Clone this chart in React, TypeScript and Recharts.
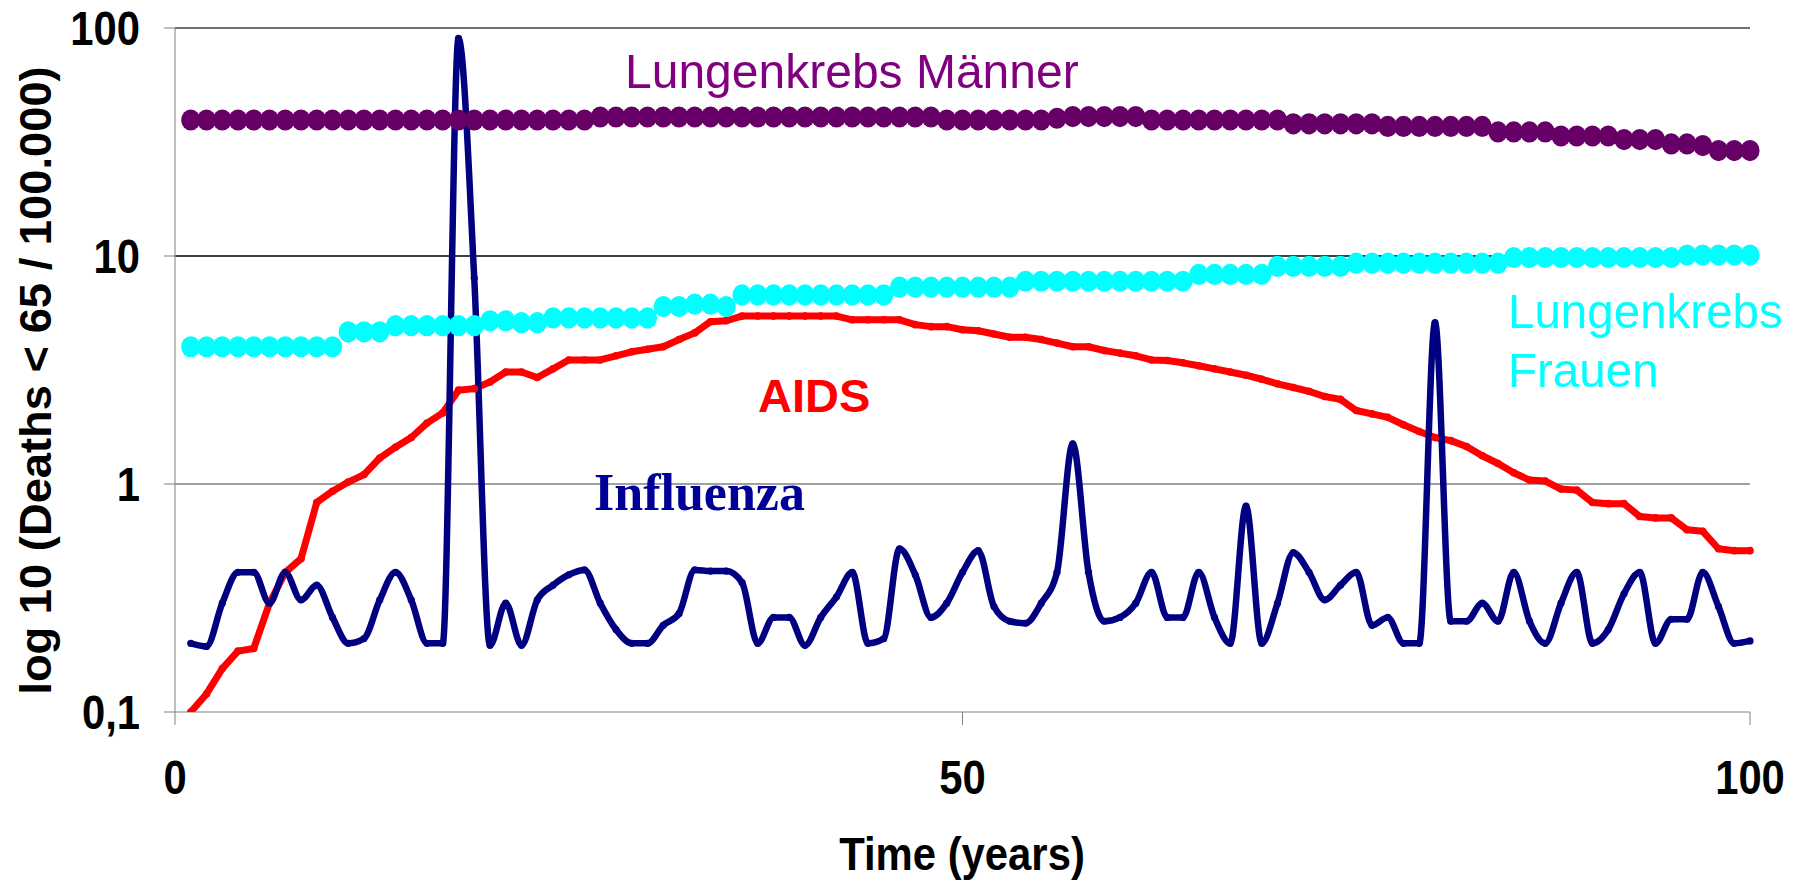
import { LineChart, Line, XAxis, YAxis, ReferenceLine } from 'recharts';

const W = 1802;
const H = 884;

// time axis: one point per year
const YEARS = Array.from({ length: 100 }, (_, i) => i + 1);

const MAENNER = [
  39.5, 39.5, 39.5, 39.5, 39.5, 39.5, 39.5, 39.5, 39.5, 39.5,
  39.5, 39.5, 39.5, 39.5, 39.5, 39.5, 39.5, 39.5, 39.5, 39.5,
  39.5, 39.5, 39.5, 39.5, 39.5, 39.5, 40.7, 40.7, 40.7, 40.7,
  40.7, 40.7, 40.7, 40.7, 40.7, 40.7, 40.7, 40.7, 40.7, 40.7,
  40.7, 40.7, 40.7, 40.7, 40.7, 40.7, 40.7, 40.7, 39.5, 39.5,
  39.5, 39.5, 39.5, 39.5, 39.5, 40.2, 40.9, 40.9, 40.9, 40.9,
  40.9, 39.5, 39.5, 39.5, 39.5, 39.5, 39.5, 39.5, 39.5, 39.5,
  38.0, 38.0, 38.0, 38.0, 38.0, 38.0, 37.0, 37.0, 37.0, 37.0,
  37.0, 37.0, 37.0, 35.0, 35.0, 35.0, 35.0, 33.6, 33.6, 33.6,
  33.6, 32.4, 32.4, 32.4, 31.0, 31.0, 30.5, 29.0, 29.0, 29.0,
];

const FRAUEN = [
  4.0, 4.0, 4.0, 4.0, 4.0, 4.0, 4.0, 4.0, 4.0, 4.0,
  4.65, 4.65, 4.65, 4.95, 4.95, 4.95, 4.95, 4.95, 4.95, 5.2,
  5.2, 5.1, 5.1, 5.35, 5.35, 5.35, 5.35, 5.35, 5.35, 5.35,
  6.0, 6.0, 6.15, 6.15, 6.0, 6.75, 6.75, 6.75, 6.75, 6.75,
  6.75, 6.75, 6.75, 6.75, 6.75, 7.3, 7.3, 7.3, 7.3, 7.3,
  7.3, 7.3, 7.3, 7.75, 7.75, 7.75, 7.75, 7.75, 7.75, 7.75,
  7.75, 7.75, 7.75, 7.75, 8.3, 8.3, 8.3, 8.3, 8.3, 9.0,
  9.0, 9.0, 9.0, 9.0, 9.3, 9.3, 9.3, 9.3, 9.3, 9.3,
  9.3, 9.3, 9.3, 9.3, 9.85, 9.85, 9.85, 9.85, 9.85, 9.85,
  9.85, 9.85, 9.85, 9.85, 9.85, 10.1, 10.1, 10.1, 10.1, 10.1,
];

const AIDS = [
  0.1, 0.12, 0.155, 0.185, 0.19, 0.3, 0.41, 0.47, 0.83, 0.93,
  1.02, 1.1, 1.3, 1.45, 1.6, 1.85, 2.05, 2.58, 2.62, 2.8,
  3.1, 3.1, 2.93, 3.2, 3.5, 3.5, 3.5, 3.65, 3.8, 3.9,
  4.0, 4.3, 4.6, 5.15, 5.2, 5.45, 5.45, 5.45, 5.45, 5.45,
  5.45, 5.45, 5.25, 5.25, 5.25, 5.25, 5.0, 4.9, 4.9, 4.75,
  4.7, 4.55, 4.4, 4.4, 4.3, 4.15, 4.0, 4.0, 3.85, 3.75,
  3.65, 3.5, 3.48, 3.4, 3.3, 3.2, 3.1, 3.0, 2.88, 2.75,
  2.65, 2.55, 2.42, 2.35, 2.1, 2.03, 1.96, 1.82, 1.7, 1.6,
  1.55, 1.46, 1.33, 1.23, 1.12, 1.04, 1.03, 0.95, 0.94, 0.83,
  0.82, 0.82, 0.72, 0.71, 0.71, 0.63, 0.62, 0.52, 0.51, 0.51,
];

const INFLUENZA = [
  0.2, 0.194, 0.3, 0.41, 0.41, 0.3, 0.41, 0.31, 0.36, 0.26,
  0.2, 0.21, 0.31, 0.41, 0.31, 0.2, 0.2, 90, 8, 0.196,
  0.3, 0.196, 0.31, 0.36, 0.4, 0.42, 0.3, 0.23, 0.2, 0.2,
  0.24, 0.27, 0.42, 0.415, 0.415, 0.37, 0.2, 0.26, 0.26, 0.196,
  0.26, 0.32, 0.41, 0.2, 0.21, 0.52, 0.4, 0.26, 0.3, 0.41,
  0.51, 0.29, 0.25, 0.245, 0.3, 0.41, 1.5, 0.41, 0.25, 0.26,
  0.3, 0.41, 0.26, 0.26, 0.41, 0.26, 0.2, 0.8, 0.2, 0.3,
  0.5, 0.41, 0.31, 0.36, 0.41, 0.24, 0.26, 0.2, 0.2, 5.1,
  0.25, 0.25, 0.3, 0.25, 0.41, 0.25, 0.2, 0.3, 0.41, 0.2,
  0.23, 0.33, 0.41, 0.2, 0.255, 0.255, 0.41, 0.29, 0.2, 0.205,
];

const X_TICKS = [0, 50, 100];
const Y_TICKS = [0.1, 1, 10, 100];
const Y_LABELS: Record<string, string> = { '0.1': '0,1', '1': '1', '10': '10', '100': '100' };

const SANS = "'Liberation Sans', Arial, sans-serif";
const SERIF = "'Liberation Serif', 'Times New Roman', serif";

const rows = YEARS.map((t, i) => ({
  t,
  maenner: MAENNER[i],
  frauen: FRAUEN[i],
  aids: AIDS[i],
  influenza: INFLUENZA[i],
}));

function squeeze(x: number, y: number, sx: number) {
  return `translate(${x},${y}) scale(${sx},1) translate(${-x},${-y})`;
}

function YTick(props: any) {
  const { x, y, payload } = props;
  return (
    <text
      x={x}
      y={y + 17}
      textAnchor="end"
      fontFamily={SANS}
      fontWeight={700}
      fontSize={48}
      fill="#000"
      transform={squeeze(x, y, 0.87)}
    >
      {Y_LABELS[String(payload.value)]}
    </text>
  );
}

function XTick(props: any) {
  const { x, y, payload } = props;
  return (
    <text
      x={x}
      y={y + 69}
      textAnchor="middle"
      fontFamily={SANS}
      fontWeight={700}
      fontSize={48}
      fill="#000"
      transform={squeeze(x, y, 0.87)}
    >
      {payload.value}
    </text>
  );
}

const bigDot = (color: string) => (p: any) => (
  <ellipse key={p.index} cx={p.cx} cy={p.cy} rx={9.6} ry={10.6} fill={color} />
);

export default function App() {
  return (
    <div style={{ position: 'absolute', left: 0, top: 0, width: W, height: H, background: '#fff' }}>
      <LineChart width={W} height={H} data={rows} margin={{ top: 28, right: 52, bottom: 0, left: 0 }}>
        <XAxis
          dataKey="t"
          type="number"
          domain={[0, 100]}
          ticks={X_TICKS}
          height={172}
          stroke="#808080"
          tickSize={13}
          tickMargin={0}
          tick={<XTick />}
        />
        <YAxis
          type="number"
          scale="log"
          domain={[0.1, 100]}
          allowDataOverflow
          ticks={Y_TICKS}
          width={175}
          stroke="#808080"
          tickSize={11}
          tickMargin={24}
          tick={<YTick />}
        />
        <ReferenceLine y={100} stroke="#404040" strokeWidth={1.4} />
        <ReferenceLine y={10} stroke="#000" strokeWidth={1.3} />
        <ReferenceLine y={1} stroke="#808080" strokeWidth={1.3} />

        <Line
          dataKey="maenner"
          stroke="none"
          dot={bigDot('#660066')}
          activeDot={false}
          isAnimationActive={false}
        />
        <Line
          dataKey="frauen"
          stroke="none"
          dot={bigDot('#00FFFF')}
          activeDot={false}
          isAnimationActive={false}
        />
        <Line
          dataKey="aids"
          type="linear"
          stroke="#FF0000"
          strokeWidth={7}
          strokeLinejoin="round"
          dot={{ r: 3.8, fill: '#FF0000', stroke: 'none' }}
          activeDot={false}
          isAnimationActive={false}
        />
        <Line
          dataKey="influenza"
          type="monotone"
          stroke="#000080"
          strokeWidth={6.5}
          strokeLinejoin="round"
          dot={{ r: 3.6, fill: '#000080', stroke: 'none' }}
          activeDot={false}
          isAnimationActive={false}
        />
      </LineChart>

      <svg
        width={W}
        height={H}
        style={{ position: 'absolute', left: 0, top: 0, pointerEvents: 'none' }}
      >
        <text x={625} y={88} fontFamily={SANS} fontSize={49} fill="#800080" transform={squeeze(625, 88, 0.98)}>
          Lungenkrebs Männer
        </text>
        <text x={1508} y={328} fontFamily={SANS} fontSize={49} fill="#00FFFF" transform={squeeze(1508, 328, 0.97)}>
          Lungenkrebs
        </text>
        <text x={1508} y={387} fontFamily={SANS} fontSize={49} fill="#00FFFF" transform={squeeze(1508, 387, 0.97)}>
          Frauen
        </text>
        <text x={758} y={412} fontFamily={SANS} fontWeight={700} fontSize={47} fill="#FF0000">
          AIDS
        </text>
        <text x={594} y={510} fontFamily={SERIF} fontWeight={700} fontSize={52} fill="#000099">
          Influenza
        </text>
        <text
          x={0}
          y={0}
          textAnchor="middle"
          fontFamily={SANS}
          fontWeight={700}
          fontSize={44}
          fill="#000"
          transform="translate(51,380.5) rotate(-90) scale(1.03,1)"
        >
          log 10 (Deaths &lt; 65 / 100.000)
        </text>
        <text
          x={0}
          y={0}
          textAnchor="middle"
          fontFamily={SANS}
          fontWeight={700}
          fontSize={47}
          fill="#000"
          transform="translate(962,870) scale(0.89,1)"
        >
          Time (years)
        </text>
      </svg>
    </div>
  );
}
